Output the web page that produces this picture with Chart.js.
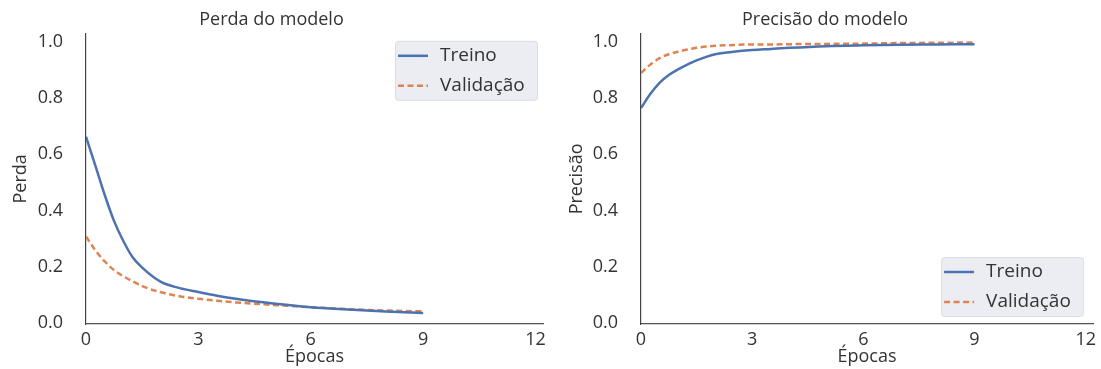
<!DOCTYPE html>
<html>
<head>
<meta charset="utf-8">
<script src="https://cdn.jsdelivr.net/npm/chart.js@4"></script>
<style>
  body { margin: 0; background: #fff; }
  #wrap { position: relative; width: 1101px; height: 369px; }
  canvas { position: absolute; top: 0; }
</style>
</head>
<body>
<div id="wrap">
  <canvas id="lossChart" width="560" height="369" style="left:0"></canvas>
  <canvas id="accChart" width="551" height="369" style="left:550px"></canvas>
</div>
<script>
const epochs = [0, 0.25, 0.5, 0.75, 1, 1.25, 1.5, 2, 2.5, 3, 3.5, 4, 5, 6, 7, 8, 9];

const lossTrain = [0.663, 0.56, 0.455, 0.362, 0.29, 0.232, 0.196, 0.145, 0.123, 0.109, 0.096, 0.085, 0.068, 0.055, 0.047, 0.04, 0.034];
const lossVal   = [0.307, 0.258, 0.218, 0.187, 0.165, 0.147, 0.13, 0.108, 0.094, 0.085, 0.078, 0.072, 0.063, 0.055, 0.048, 0.043, 0.04];

const accTrain = [0.765, 0.815, 0.855, 0.883, 0.903, 0.92, 0.935, 0.957, 0.966, 0.972, 0.976, 0.98, 0.986, 0.989, 0.991, 0.992, 0.993];
const accVal   = [0.89, 0.92, 0.943, 0.957, 0.966, 0.974, 0.98, 0.987, 0.99, 0.992, 0.992, 0.993, 0.994, 0.995, 0.997, 0.998, 0.999];

const xTicks = [0, 3, 6, 9, 12];
const yTicks = [0, 0.2, 0.4, 0.6, 0.8, 1.0];
const seriesNames = ['Treino', 'Validação'];

const blue = '#4c72b0';
const orange = '#dd8452';
const textColor = '#333';
const font = { family: 'Open Sans', size: 18 };

// small legend box drawn inside the plot, like the matplotlib one
const boxLegend = {
  id: 'boxLegend',
  afterDraw(chart, args, opts) {
    const { ctx, chartArea } = chart;
    const w = 142, h = 59;
    const x = chartArea.right - opts.insetRight - w;
    const y = opts.corner === 'top' ? chartArea.top + 7 : chartArea.bottom - 8 - h;
    ctx.save();
    ctx.fillStyle = 'rgba(234,234,242,0.9)';
    ctx.strokeStyle = '#dcdce4';
    ctx.lineWidth = 1;
    ctx.beginPath();
    ctx.roundRect(x + 0.5, y + 0.5, w, h, 3);
    ctx.fill();
    ctx.stroke();
    ctx.font = '19px "Open Sans"';
    ctx.textBaseline = 'middle';
    ctx.fillStyle = textColor;
    chart.data.datasets.forEach((ds, i) => {
      const ry = y + 15 + i * 30;
      ctx.beginPath();
      ctx.strokeStyle = ds.borderColor;
      ctx.lineWidth = ds.borderWidth;
      ctx.setLineDash(ds.borderDash || []);
      ctx.moveTo(x + 3, ry);
      ctx.lineTo(x + 33, ry);
      ctx.stroke();
      ctx.setLineDash([]);
      ctx.fillText(ds.label, x + 45, ry);
    });
    ctx.restore();
  }
};

function makeChart(id, title, yTitle, train, val, yWidth, yTitlePad, padRight, corner, insetRight) {
  return new Chart(document.getElementById(id), {
    type: 'line',
    data: {
      datasets: [
        {
          label: seriesNames[0],
          data: epochs.map((e, i) => ({ x: e, y: train[i] })),
          borderColor: blue,
          borderWidth: 2.5,
          pointRadius: 0,
          cubicInterpolationMode: 'monotone'
        },
        {
          label: seriesNames[1],
          data: epochs.map((e, i) => ({ x: e, y: val[i] })),
          borderColor: orange,
          borderWidth: 2.5,
          borderDash: [6, 3.5],
          pointRadius: 0,
          cubicInterpolationMode: 'monotone'
        }
      ]
    },
    options: {
      responsive: false,
      animation: false,
      layout: { padding: { left: 0, right: padRight, top: 0, bottom: 0 } },
      plugins: {
        legend: { display: false },
        tooltip: { enabled: false },
        title: {
          display: true,
          text: title,
          color: textColor,
          font: { family: 'Open Sans', size: 18, weight: 'normal' },
          padding: { top: 8, bottom: 3 }
        },
        boxLegend: { corner: corner, insetRight: insetRight }
      },
      scales: {
        x: {
          type: 'linear',
          min: 0,
          max: 12.2,
          afterBuildTicks: s => { s.ticks = xTicks.map(v => ({ value: v })); },
          afterFit: s => { s.height = 45; },
          grid: { display: false, drawTicks: false },
          border: { display: true, color: '#555', width: 1.2 },
          ticks: { padding: 5, color: textColor, font: font },
          title: { display: true, text: 'Épocas', color: textColor, font: font, padding: { top: 0, bottom: 1 } }
        },
        y: {
          min: -0.005,
          max: 1.03,
          afterBuildTicks: s => { s.ticks = yTicks.map(v => ({ value: v })); },
          afterFit: s => { s.width = yWidth; },
          grid: { display: false, drawTicks: false },
          border: { display: true, color: '#444', width: 1.2 },
          ticks: { padding: 23, color: textColor, font: font, callback: v => v.toFixed(1) },
          title: { display: true, text: yTitle, color: textColor, font: font, padding: { top: yTitlePad, bottom: 0 } }
        }
      }
    },
    plugins: [boxLegend]
  });
}

makeChart('lossChart', 'Perda do modelo', 'Perda', lossTrain, lossVal, 86, 10, 17, 'top', 6);
makeChart('accChart', 'Precisão do modelo', 'Precisão', accTrain, accVal, 91, 16, 1, 'bottom', 10);
</script>
</body>
</html>
